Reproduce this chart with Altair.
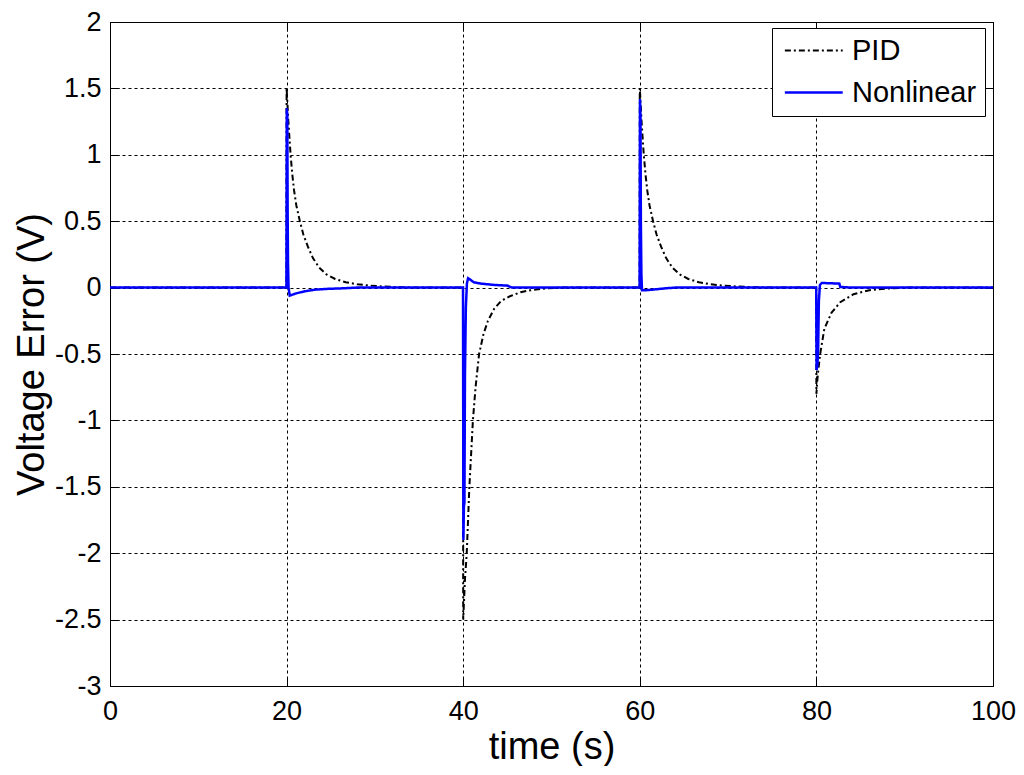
import altair as alt
import pandas as pd

# ---- data ----
series_names = ["PID", "Nonlinear"]

t_pid = [0, 19.98, 20.0, 20.1, 20.2, 20.3, 20.45, 20.65, 20.85, 21.1, 21.5, 21.9, 22.4, 23.0, 23.7,
         24.5, 25.5, 26.7, 28.0, 29.5, 31.0, 33.0, 35.0,
         39.98, 40.0, 40.1, 40.2, 40.3, 40.4, 40.55, 40.7, 40.9, 41.1, 41.4, 41.8, 42.3, 42.8, 43.5,
         44.3, 45.3, 46.5, 47.6, 49.0, 51.0,
         59.98, 60.0, 60.1, 60.2, 60.3, 60.45, 60.65, 60.85, 61.1, 61.5, 61.9, 62.4, 63.0, 63.7,
         64.5, 65.5, 66.7, 68.0, 69.5, 71.0, 73.0, 75.0,
         79.98, 80.0, 80.1, 80.25, 80.45, 80.9, 81.7, 82.7, 84.2, 86.0, 88.0, 90.0, 100.0]
v_pid = [0, 0, 1.5, 1.38, 1.25, 1.15, 1.0, 0.85, 0.73, 0.62, 0.5, 0.4, 0.31, 0.22, 0.15,
         0.10, 0.065, 0.04, 0.025, 0.015, 0.008, 0.003, 0.0,
         0, -2.5, -2.35, -2.2, -2.1, -2.0, -1.75, -1.5, -1.25, -1.0, -0.75, -0.5, -0.35, -0.25, -0.16,
         -0.1, -0.065, -0.035, -0.02, -0.008, 0.0,
         0, 1.5, 1.38, 1.25, 1.15, 1.0, 0.85, 0.73, 0.62, 0.5, 0.4, 0.31, 0.22, 0.15,
         0.10, 0.065, 0.04, 0.025, 0.015, 0.008, 0.003, 0.0,
         0, -0.8, -0.7, -0.6, -0.49, -0.31, -0.19, -0.11, -0.05, -0.02, -0.007, 0.0, 0.0]

t_nl = [0, 19.98, 20.02, 20.08, 20.12, 20.16, 20.22, 20.35, 20.6, 21.0, 21.6, 22.3, 23.3, 24.5, 26.5, 28.0,
        39.98, 40.02, 40.08, 40.14, 40.2, 40.3, 40.42, 40.55, 40.8, 41.2, 42.0, 43.5, 45.0, 45.5,
        59.98, 60.02, 60.08, 60.12, 60.18, 60.25, 60.6, 61.5, 63.0, 64.0,
        79.98, 80.02, 80.12, 80.2, 80.28, 80.4, 80.6, 82.6, 82.7, 84.0, 100.0]
v_nl = [0, 0, 1.35, 1.3, 0.55, 0.18, 0.0, -0.06, -0.055, -0.045, -0.035, -0.025, -0.015, -0.01, -0.005, 0.0,
        0, -1.9, -1.65, -1.62, -0.65, -0.15, 0.03, 0.07, 0.06, 0.04, 0.03, 0.02, 0.015, 0.0,
        0, 1.42, 1.3, 0.5, 0.1, -0.02, -0.02, -0.015, -0.005, 0.0,
        0, -0.62, -0.58, -0.45, -0.1, 0.02, 0.035, 0.03, 0.005, 0.0, 0.0]

x_ticks = [0, 20, 40, 60, 80, 100]
y_ticks = [2, 1.5, 1, 0.5, 0, -0.5, -1, -1.5, -2, -2.5, -3]

df_pid = pd.DataFrame({"t": t_pid, "v": v_pid, "series": "PID"})
df_nl = pd.DataFrame({"t": t_nl, "v": v_nl, "series": "Nonlinear"})

FONT = "Liberation Sans"
W, H = 883, 664
TICK = 9

xscale = alt.Scale(domain=[0, 100], nice=False, zero=False)
yscale = alt.Scale(domain=[-3, 2], nice=False, zero=False)

color_scale = alt.Scale(domain=series_names, range=["#000000", "#0000ff"])
dash_scale = alt.Scale(domain=series_names, range=[[6, 3, 2, 3], [1, 0]])
width_scale = alt.Scale(domain=series_names, range=[2.0, 2.5])

legend = alt.Legend(
    title=None, orient="none", legendX=662, legendY=6,
    labelFont=FONT, labelFontSize=29, labelColor="black",
    symbolType="M-1,0H5", symbolSize=372, labelOffset=43,
    padding=8, rowPadding=12, strokeColor="black", fillColor="white",
    cornerRadius=0, labelLimit=400,
)

enc_series = dict(
    color=alt.Color("series:N", scale=color_scale, legend=legend),
    strokeDash=alt.StrokeDash("series:N", scale=dash_scale, legend=legend),
    strokeWidth=alt.StrokeWidth("series:N", scale=width_scale, legend=legend),
)

x_axis_main = alt.Axis(
    orient="bottom", values=x_ticks, title="time (s)", grid=True, gridDash=[3, 3],
    gridColor="black", gridOpacity=1, gridWidth=1, ticks=False, domain=False,
    labelFont=FONT, labelFontSize=27, labelColor="black", labelPadding=12,
    titleFont=FONT, titleFontSize=38, titleFontWeight="normal", titleColor="black",
    titlePadding=4, labelFlush=False,
)
y_axis_main = alt.Axis(
    orient="left", values=y_ticks, title="Voltage Error (V)", grid=True, gridDash=[3, 3],
    gridColor="black", gridOpacity=1, gridWidth=1, ticks=False, domain=False,
    labelFont=FONT, labelFontSize=27, labelColor="black", labelPadding=9,
    labelExpr="datum.value + ''",
    titleFont=FONT, titleFontSize=38, titleFontWeight="normal", titleColor="black",
    titlePadding=3, labelFlush=False,
)


def tick_axis(orient, values):
    return alt.Axis(orient=orient, values=values, title=None, labels=False, grid=False,
                    domain=False, ticks=True, tickSize=TICK, tickColor="black", tickWidth=1,
                    offset=-TICK)


pid_layer = alt.Chart(df_pid).mark_line().encode(
    x=alt.X("t:Q", scale=xscale, axis=x_axis_main),
    y=alt.Y("v:Q", scale=yscale, axis=y_axis_main),
    **enc_series,
)
nl_layer = alt.Chart(df_nl).mark_line().encode(
    x=alt.X("t:Q", scale=xscale, axis=tick_axis("bottom", x_ticks)),
    y=alt.Y("v:Q", scale=yscale, axis=tick_axis("left", y_ticks)),
    **enc_series,
)
tick_layer = alt.Chart(df_pid).mark_line(opacity=0).encode(
    x=alt.X("t:Q", scale=xscale, axis=tick_axis("top", x_ticks)),
    y=alt.Y("v:Q", scale=yscale, axis=tick_axis("right", y_ticks)),
)

chart = (
    alt.layer(tick_layer, pid_layer, nl_layer)
    .resolve_axis(x="independent", y="independent")
    .properties(
        width=W, height=H,
        autosize=alt.AutoSizeParams(type="none"),
        padding={"left": 102, "top": 14, "right": 23, "bottom": 80},
        background="white",
    )
    .configure_view(stroke="black", strokeWidth=1)
)

chart.save("out.html", embed_options={"renderer": "svg", "actions": False})
